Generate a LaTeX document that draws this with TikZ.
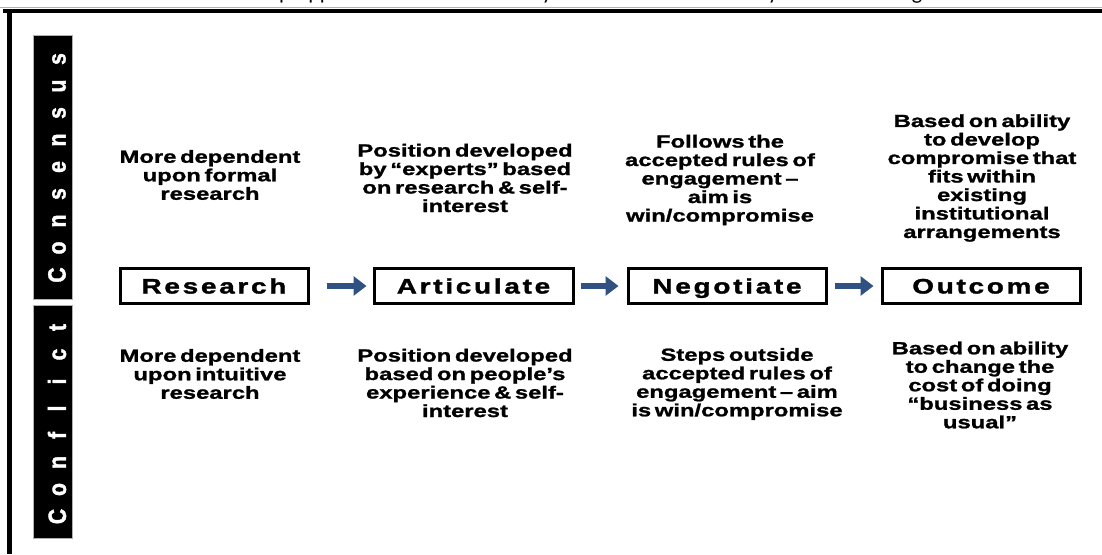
\documentclass[tikz,border=0pt]{standalone}
\usepackage{fontspec}
\usetikzlibrary{arrows.meta}
\setmainfont{Liberation Sans}
% wide heavy face for the step boxes and the notes
\newfontfamily\boxfont[FakeStretch=1.33,LetterSpace=13,FakeBold=1.6]{Liberation Sans}
\newfontfamily\notefont[FakeStretch=1.36,WordSpace=0.55,FakeBold=1.3]{Liberation Sans}
\newfontfamily\barfont[FakeStretch=0.85,FakeBold=1.5]{Liberation Sans}
\newfontfamily\capfont{Carlito}
\definecolor{flowblue}{HTML}{2F5283}
\definecolor{bargray}{HTML}{B0B0B0}
% one letter per fixed-width cell for the side bars
\newcommand\cell[1]{\makebox[27pt]{#1}}

\begin{document}
\begin{tikzpicture}[x=1pt,y=-1pt,
  stepbox/.style={draw, line width=3pt, minimum width=198pt, minimum height=35pt,
    inner sep=0pt, text height=15pt, text depth=0pt,
    font=\boxfont\bfseries\fontsize{21}{21}\selectfont},
  note/.style={align=center, inner sep=0pt,
    font=\notefont\bfseries\fontsize{17.5}{18.5}\selectfont},
  sidebar/.style={fill=black, draw=bargray, line width=1pt},
  sidetext/.style={rotate=90, text=white, inner sep=0pt,
    font=\barfont\bfseries\fontsize{25}{25}\selectfont},
  flow/.style={draw=flowblue, line width=6pt,
    -{Triangle[length=13pt,width=19pt]}},
  fragment/.style={anchor=base, inner sep=0pt,
    font=\capfont\fontsize{22}{22}\selectfont}]
\useasboundingbox (0,0) rectangle (1102,554);

% heading line above the frame, mostly cut off
\begin{scope}
  \clip (0,0) rectangle (1102,7);
  \node[fragment] (f1) at (285,-1) {p};
  \node[fragment] (f2) at (320,-1) {pp};
  \node[fragment] (f3) at (547,-1) {y};
  \node[fragment] (f4) at (773,-1) {y};
  \node[fragment] (f5) at (917,-1) {g};
\end{scope}
\draw[bargray, line width=0.8pt] (0,7) -- (1102,7);

% frame
\draw[line width=4pt] (3,11) -- (1102,11);
\draw[line width=4.5pt] (9.5,9) -- (9.5,554);

% side bars
\node[sidebar, minimum width=39pt, minimum height=264pt, inner sep=0pt] (cbar) at (52.5,167) {};
\node[sidebar, minimum width=39pt, minimum height=233pt, inner sep=0pt] (kbar) at (52.5,421.5) {};
\node[sidetext] (ctext) at (57,167)
  {\cell{C}\cell{o}\cell{n}\cell{s}\cell{e}\cell{n}\cell{s}\cell{u}\cell{s}};
\node[sidetext] (ktext) at (57,422)
  {\cell{C}\cell{o}\cell{n}\cell{f}\cell{l}\cell{i}\cell{c}\cell{t}};

% process steps
\node[stepbox, minimum width=188pt] (research) at (214,286) {Research};
\node[stepbox, minimum width=199pt] (articulate) at (473.5,286) {Articulate};
\node[stepbox] (negotiate) at (727,286) {Negotiate};
\node[stepbox] (outcome) at (981,286) {Outcome};

\draw[flow, shorten <=17pt, shorten >=6pt] (research.east) -- (articulate.west);
\draw[flow, shorten <=6pt, shorten >=8pt] (articulate.east) -- (negotiate.west);
\draw[flow, shorten <=7pt, shorten >=7pt] (negotiate.east) -- (outcome.west);

% consensus notes
\node[note] (c1) at (210,175) {More dependent\\upon formal\\research};
\node[note] (c2) at (465,178) {Position developed\\by \char"201C experts\char"201D{} based\\on research \& self-\\interest};
\node[note] (c3) at (720,180) {Follows the\\accepted rules of\\engagement \char"2013\\aim is\\win/compromise};
\node[note] (c4) at (982,178) {Based on ability\\to develop\\compromise that\\fits within\\existing\\institutional\\arrangements};

% conflict notes
\node[note] (k1) at (210,374) {More dependent\\upon intuitive\\research};
\node[note] (k2) at (465,383) {Position developed\\based on people\char"2019s\\experience \& self-\\interest};
\node[note] (k3) at (737,384) {Steps outside\\accepted rules of\\engagement \char"2013{} aim\\is win/compromise};
\node[note] (k4) at (980,385) {Based on ability\\to change the\\cost of doing\\\char"201C business as\\usual\char"201D};
\end{tikzpicture}
\end{document}
